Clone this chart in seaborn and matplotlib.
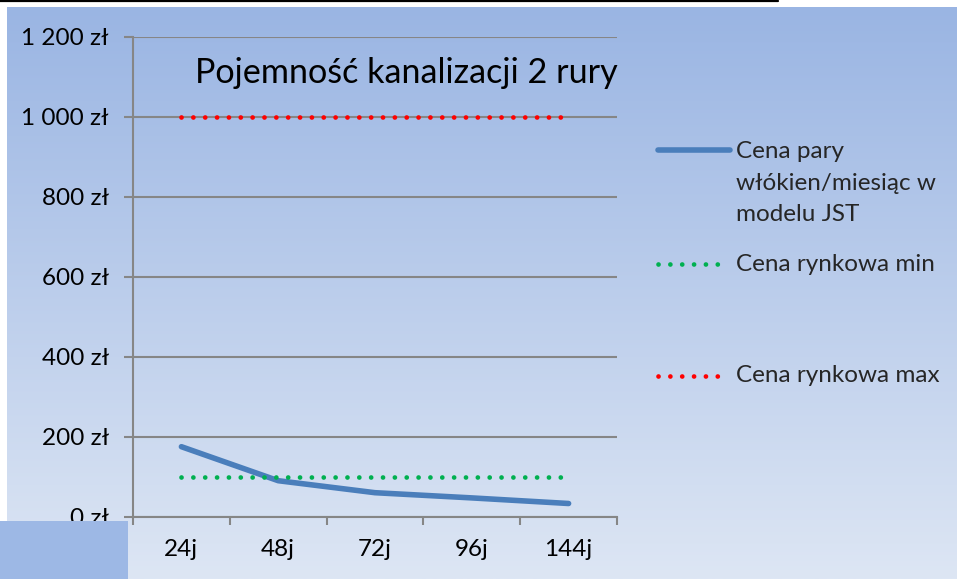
import numpy as np
import pandas as pd
import matplotlib
matplotlib.use("Agg")
import matplotlib.pyplot as plt
import seaborn as sns
from matplotlib.lines import Line2D
from matplotlib.patches import Rectangle
from matplotlib.colors import LinearSegmentedColormap

# ---- data ----
categories = ["24j", "48j", "72j", "96j", "144j"]
cena_jst = [175, 90, 60, 47, 33]
cena_min = [100, 100, 100, 100, 100]
cena_max = [1000, 1000, 1000, 1000, 1000]
y_ticks = [0, 200, 400, 600, 800, 1000, 1200]
y_tick_labels = ["0 zł", "200 zł", "400 zł", "600 zł", "800 zł", "1 000 zł", "1 200 zł"]
title = "Pojemność kanalizacji 2 rury"
label_jst = "Cena pary\nwłókien/miesiąc w\nmodelu JST"
label_min = "Cena rynkowa min"
label_max = "Cena rynkowa max"

sns.set_theme(style="white")
plt.rcParams["font.family"] = ["Lato", "DejaVu Sans"]

W, H = 957, 579
fig = plt.figure(figsize=(W / 100, H / 100), dpi=100)
fig.patch.set_facecolor("white")

def fx(px):
    return px / W

def fy(py):
    return 1 - py / H

FS = 17.5

# gradient background
bg = fig.add_axes([fx(7), 0, 1 - fx(7), 1 - 7 / H])
grad = np.linspace(0, 1, 256)[:, None]
cmap = LinearSegmentedColormap.from_list("g", ["#9AB5E3", "#DDE6F4"])
bg.imshow(grad, aspect="auto", cmap=cmap, extent=[0, 1, 0, 1], origin="upper")
bg.axis("off")

fig.add_artist(Line2D([0, fx(778)], [fy(1), fy(1)], color="black", lw=1.6,
                      transform=fig.transFigure))

# main axes
ax = fig.add_axes([fx(133), fy(516.7), fx(617) - fx(133), fy(36.7) - fy(516.7)])
ax.patch.set_alpha(0)

df = pd.DataFrame({"kat": categories, "jst": cena_jst, "min": cena_min, "max": cena_max})

dot_lw = 3.4
dot_style = (0, (0.01, 8.5 / dot_lw))

sns.lineplot(data=df, x="kat", y="jst", ax=ax, color="#4A7EBB", lw=4.0, sort=False)
sns.lineplot(data=df, x="kat", y="min", ax=ax, color="#00B050", lw=dot_lw, sort=False)
sns.lineplot(data=df, x="kat", y="max", ax=ax, color="#FF0000", lw=dot_lw, sort=False)
ax.lines[0].set_solid_capstyle("round")
ax.lines[0].set_solid_joinstyle("round")
for ln in ax.lines[1:]:
    ln.set_linestyle(dot_style)
    ln.set_dash_capstyle("round")

ax.set_xlim(-0.5, 4.5)
ax.set_ylim(0, 1200)
ax.set_xlabel("")
ax.set_ylabel("")

gcol = "#868686"
ax.yaxis.grid(True, color=gcol, lw=1.5)
ax.xaxis.grid(False)
ax.set_axisbelow(True)
for s in ["top", "right"]:
    ax.spines[s].set_visible(False)
for s in ["left", "bottom"]:
    ax.spines[s].set_color(gcol)
    ax.spines[s].set_linewidth(1.5)

ax.set_yticks(y_ticks, y_tick_labels)
ax.tick_params(axis="y", which="major", length=6.5, width=1.5, color=gcol, pad=11,
               labelsize=FS, direction="out", left=True, labelcolor="black")
ax.set_xticks(range(len(categories)), categories)
ax.tick_params(axis="x", which="major", length=0, pad=16, labelsize=FS, labelcolor="black")
ax.set_xticks(np.arange(-0.5, len(categories), 1), minor=True)
ax.tick_params(axis="x", which="minor", length=5.5, width=1.5, color=gcol,
               direction="out", bottom=True)

# title
fig.text(fx(195), fy(82.7), title, fontsize=24.6, ha="left", va="baseline", color="black")

# blue box at bottom-left
fig.add_artist(Rectangle((0, 0), fx(128), fy(521), transform=fig.transFigure,
                         facecolor="#9DB8E5", edgecolor="none", zorder=10))

# legend
fig.add_artist(Line2D([fx(658), fx(730)], [fy(150), fy(150)], color="#4A7EBB", lw=4.0,
                      solid_capstyle="round", transform=fig.transFigure))
fig.add_artist(Line2D([fx(658), fx(721)], [fy(264), fy(264)], color="#00B050", lw=dot_lw,
                      linestyle=dot_style, dash_capstyle="round", transform=fig.transFigure))
fig.add_artist(Line2D([fx(658), fx(721)], [fy(376), fy(376)], color="#FF0000", lw=dot_lw,
                      linestyle=dot_style, dash_capstyle="round", transform=fig.transFigure))
for i, line in enumerate(label_jst.split("\n")):
    fig.text(fx(736), fy(152 + 31 * i), line, fontsize=FS, ha="left", va="center")
fig.text(fx(736), fy(264), label_min, fontsize=FS, ha="left", va="center")
fig.text(fx(736), fy(376), label_max, fontsize=FS, ha="left", va="center")

fig.savefig("out.png", dpi=100)
